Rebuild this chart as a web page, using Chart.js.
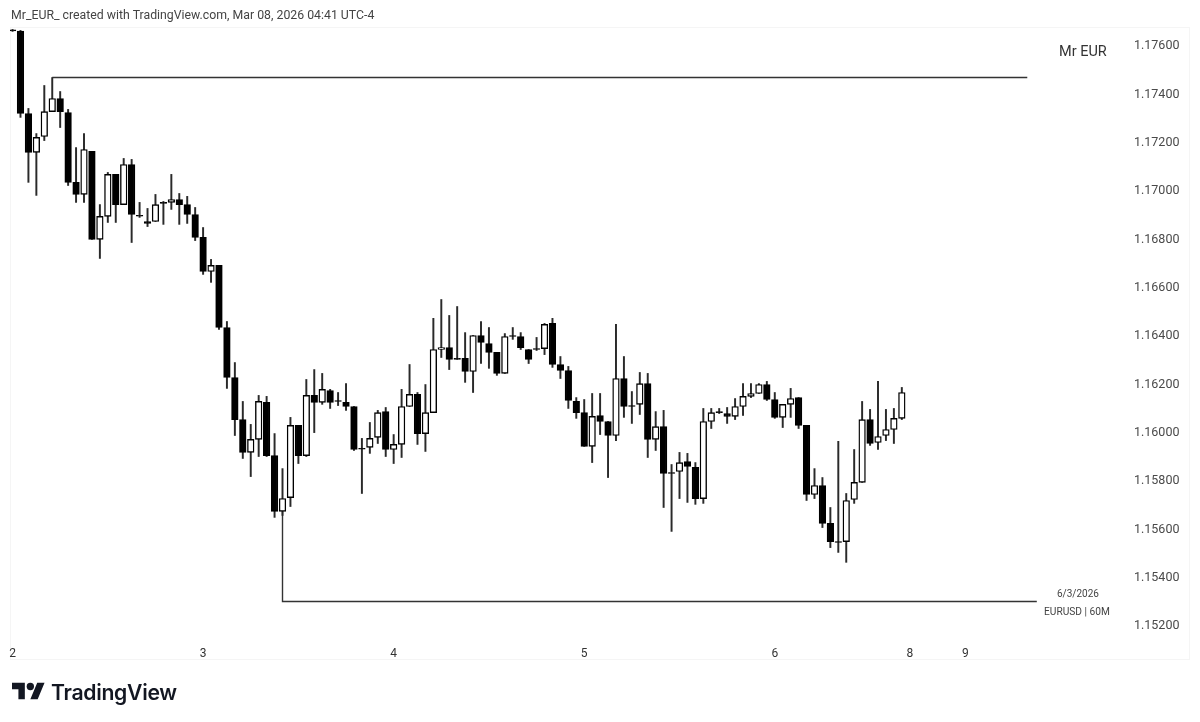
<!DOCTYPE html>
<html>
<head>
<meta charset="utf-8">
<title>EURUSD 60M</title>
<script src="https://cdn.jsdelivr.net/npm/chart.js@4"></script>
<style>
  html, body { margin: 0; padding: 0; background: #fff; }
  #wrap { position: relative; width: 1200px; height: 722px; overflow: hidden; font-family: Roboto, sans-serif; }
  #frame { position: absolute; left: 10px; top: 27px; width: 1178px; height: 631px; border: 1px solid #f5f5f5; }
  canvas { position: absolute; left: 0; top: 0; }
  .txt { position: absolute; white-space: nowrap; color: #444; }
  #head { left: 11px; top: 8px; font-size: 12.3px; }
  #brand { left: 1059px; top: 43px; font-size: 14.5px; color: #333; }
  #date { left: 1044px; width: 68px; text-align: center; top: 588px; font-size: 10px; }
  #sym { left: 1044px; top: 606px; font-size: 10.2px; }
  #tv { left: 51px; top: 679px; font-family: Inter, sans-serif; font-weight: 600; font-size: 21.2px; color: #131722; letter-spacing: -0.3px; }
  #logo { position: absolute; left: 12px; top: 679px; }
</style>
</head>
<body>
<div id="wrap">
  <div id="frame"></div>
  <canvas id="chart" width="1200" height="722"></canvas>
  <div class="txt" id="head">Mr_EUR_ created with TradingView.com, Mar 08, 2026 04:41 UTC-4</div>
  <div class="txt" id="brand">Mr EUR</div>
  <div class="txt" id="date">6/3/2026</div>
  <div class="txt" id="sym">EURUSD | 60M</div>
  <svg id="logo" width="33" height="26" viewBox="0 0 36 28">
    <path fill="#131722" d="M14 22H7V11H0V4h14v18zM28 22h-8l7.5-18h8L28 22z"/>
    <circle fill="#131722" cx="20" cy="8" r="4"/>
  </svg>
  <div class="txt" id="tv">TradingView</div>
</div>
<script>
const opens = [
  1.17668, 1.17663, 1.17322, 1.17161, 1.17227, 1.17330, 1.17384, 1.17326, 1.17037, 1.16987,
  1.17165, 1.16801, 1.16896, 1.17070, 1.16945, 1.17111, 1.16900, 1.16875, 1.16875, 1.16954,
  1.16954, 1.16966, 1.16945, 1.16904, 1.16809, 1.16668, 1.16693, 1.16436, 1.16229, 1.16055,
  1.15919, 1.15973, 1.16126, 1.15906, 1.15675, 1.15732, 1.16031, 1.15906, 1.16155, 1.16126,
  1.16175, 1.16134, 1.16126, 1.16109, 1.15936, 1.15940, 1.15981, 1.16088, 1.15931, 1.15952,
  1.16109, 1.16159, 1.15997, 1.16084, 1.16345, 1.16353, 1.16308, 1.16308, 1.16254, 1.16403,
  1.16370, 1.16333, 1.16246, 1.16403, 1.16399, 1.16345, 1.16349, 1.16349, 1.16453, 1.16283,
  1.16258, 1.16130, 1.16084, 1.15944, 1.16072, 1.16047, 1.15989, 1.16225, 1.16113, 1.16118,
  1.16204, 1.15973, 1.16026, 1.15836, 1.15840, 1.15881, 1.15857, 1.15728, 1.16047, 1.16088,
  1.16080, 1.16068, 1.16109, 1.16151, 1.16163, 1.16200, 1.16138, 1.16064, 1.16118, 1.16146,
  1.16031, 1.15745, 1.15782, 1.15625, 1.15550, 1.15550, 1.15724, 1.15795, 1.16055, 1.15960,
  1.15989, 1.16014, 1.16060
];
const highs = [
  1.17670, 1.17666, 1.17343, 1.17239, 1.17438, 1.17471, 1.17413, 1.17339, 1.17181, 1.17239,
  1.17165, 1.16945, 1.17078, 1.17070, 1.17136, 1.17132, 1.16954, 1.16929, 1.16987, 1.16958,
  1.17070, 1.16991, 1.16979, 1.16933, 1.16850, 1.16718, 1.16693, 1.16461, 1.16291, 1.16130,
  1.16035, 1.16155, 1.16151, 1.15997, 1.15852, 1.16064, 1.16031, 1.16221, 1.16262, 1.16246,
  1.16180, 1.16167, 1.16204, 1.16109, 1.15977, 1.16043, 1.16093, 1.16105, 1.15993, 1.16180,
  1.16283, 1.16167, 1.16200, 1.16474, 1.16552, 1.16486, 1.16523, 1.16415, 1.16403, 1.16461,
  1.16436, 1.16333, 1.16411, 1.16436, 1.16415, 1.16345, 1.16395, 1.16453, 1.16474, 1.16316,
  1.16275, 1.16146, 1.16138, 1.16163, 1.16163, 1.16047, 1.16449, 1.16316, 1.16171, 1.16250,
  1.16246, 1.16088, 1.16093, 1.15869, 1.15919, 1.15915, 1.15877, 1.16101, 1.16101, 1.16101,
  1.16105, 1.16142, 1.16204, 1.16204, 1.16204, 1.16213, 1.16167, 1.16118, 1.16184, 1.16146,
  1.16031, 1.15852, 1.15815, 1.15691, 1.15965, 1.15749, 1.15931, 1.16130, 1.16097, 1.16213,
  1.16097, 1.16101, 1.16188
];
const lows = [
  1.17662, 1.17306, 1.17037, 1.16983, 1.17210, 1.17330, 1.17264, 1.17024, 1.16954, 1.16954,
  1.16801, 1.16722, 1.16871, 1.16871, 1.16945, 1.16788, 1.16892, 1.16854, 1.16875, 1.16863,
  1.16925, 1.16863, 1.16867, 1.16796, 1.16656, 1.16623, 1.16428, 1.16184, 1.15989, 1.15894,
  1.15819, 1.15902, 1.15902, 1.15650, 1.15658, 1.15695, 1.15873, 1.15902, 1.16001, 1.16118,
  1.16101, 1.16113, 1.16093, 1.15927, 1.15749, 1.15915, 1.15956, 1.15902, 1.15873, 1.15898,
  1.16109, 1.15952, 1.15923, 1.16084, 1.16312, 1.16262, 1.16304, 1.16209, 1.16167, 1.16287,
  1.16267, 1.16238, 1.16246, 1.16387, 1.16345, 1.16287, 1.16341, 1.16324, 1.16271, 1.16225,
  1.16101, 1.16060, 1.15944, 1.15877, 1.15993, 1.15815, 1.15968, 1.16064, 1.16039, 1.16076,
  1.15898, 1.15927, 1.15691, 1.15592, 1.15728, 1.15712, 1.15704, 1.15708, 1.16018, 1.16080,
  1.16039, 1.16055, 1.16072, 1.16146, 1.16163, 1.16134, 1.16060, 1.16022, 1.16064, 1.16018,
  1.15720, 1.15728, 1.15608, 1.15525, 1.15505, 1.15464, 1.15708, 1.15795, 1.15948, 1.15931,
  1.15968, 1.15956, 1.16055
];
const closes = [
  1.17664, 1.17322, 1.17161, 1.17223, 1.17330, 1.17384, 1.17330, 1.17037, 1.16987, 1.17173,
  1.16801, 1.16896, 1.17070, 1.16945, 1.17111, 1.16904, 1.16897, 1.16867, 1.16945, 1.16950,
  1.16966, 1.16945, 1.16904, 1.16809, 1.16668, 1.16693, 1.16436, 1.16229, 1.16055, 1.15919,
  1.15973, 1.16130, 1.15906, 1.15675, 1.15728, 1.16031, 1.15906, 1.16155, 1.16126, 1.16180,
  1.16126, 1.16130, 1.16109, 1.15931, 1.15932, 1.15977, 1.16084, 1.15931, 1.15952, 1.16109,
  1.16159, 1.15997, 1.16084, 1.16345, 1.16353, 1.16304, 1.16304, 1.16254, 1.16403, 1.16374,
  1.16333, 1.16246, 1.16399, 1.16399, 1.16353, 1.16304, 1.16345, 1.16449, 1.16283, 1.16258,
  1.16134, 1.16084, 1.15944, 1.16068, 1.16047, 1.15989, 1.16225, 1.16109, 1.16109, 1.16204,
  1.15973, 1.16026, 1.15832, 1.15832, 1.15877, 1.15861, 1.15728, 1.16047, 1.16084, 1.16084,
  1.16068, 1.16109, 1.16151, 1.16163, 1.16200, 1.16138, 1.16064, 1.16118, 1.16142, 1.16031,
  1.15745, 1.15782, 1.15625, 1.15550, 1.15546, 1.15720, 1.15795, 1.16055, 1.15956, 1.15985,
  1.16014, 1.16060, 1.16167
];

// candle index of each day label on the time axis
const dayTicks = [0, 24, 48, 72, 96, 113, 120];
const dayLabels = ["2", "3", "4", "5", "6", "8", "9"];
const priceTicks = [1.176, 1.174, 1.172, 1.17, 1.168, 1.166, 1.164, 1.162, 1.16, 1.158, 1.156, 1.154, 1.152];

// drawn levels: [candle index, price]
const highLevel = [[5, 1.17471], [5, 1.17471], [127.8, 1.17471]];
const lowLevel = [[34, 1.15675], [34, 1.15302], [129, 1.15302]];

const candles = opens.map((o, i) => ({ x: i, y: [o, closes[i]] }));
const wicks = highs.map((h, i) => ({ x: i, y: [lows[i], h] }));

function levelDataset(points) {
  return {
    type: "line",
    data: points.map((p) => ({ x: p[0], y: p[1] })),
    borderColor: "#333",
    borderWidth: 1.4,
    pointRadius: 0,
    tension: 0,
    order: 3,
  };
}

new Chart(document.getElementById("chart"), {
  type: "bar",
  data: {
    datasets: [
      {
        data: candles,
        backgroundColor: closes.map((c, i) => (c >= opens[i] ? "#fff" : "#000")),
        borderColor: "#000",
        borderWidth: 1.4,
        borderSkipped: false,
        barThickness: 6.6,
        grouped: false,
        order: 1,
      },
      {
        data: wicks,
        backgroundColor: "#2a2a2a",
        borderWidth: 0,
        barThickness: 1.3,
        grouped: false,
        order: 2,
      },
      levelDataset(highLevel),
      levelDataset(lowLevel),
    ],
  },
  options: {
    responsive: false,
    animation: false,
    devicePixelRatio: 1,
    layout: { padding: { left: 10, top: 28 } },
    plugins: { legend: { display: false }, tooltip: { enabled: false } },
    scales: {
      x: {
        type: "linear",
        offset: false,
        min: -0.32,
        max: 139.73,
        grid: { display: false },
        border: { display: false },
        afterFit(scale) { scale.height = 86; },
        afterBuildTicks(scale) { scale.ticks = dayTicks.map((v) => ({ value: v })); },
        ticks: {
          autoSkip: false,
          maxRotation: 0,
          padding: 3,
          color: "#333",
          font: { family: "Roboto", size: 12 },
          callback: (v) => dayLabels[dayTicks.indexOf(v)],
        },
      },
      y: {
        position: "right",
        min: 1.15159,
        max: 1.17676,
        grid: { display: false },
        border: { display: false },
        afterFit(scale) { scale.width = 78; },
        afterBuildTicks(scale) { scale.ticks = priceTicks.map((v) => ({ value: v })); },
        ticks: {
          padding: 4,
          color: "#4a4a4a",
          font: { family: "Roboto", size: 12.5 },
          callback: (v) => v.toFixed(5),
        },
      },
    },
  },
});
</script>
</body>
</html>
